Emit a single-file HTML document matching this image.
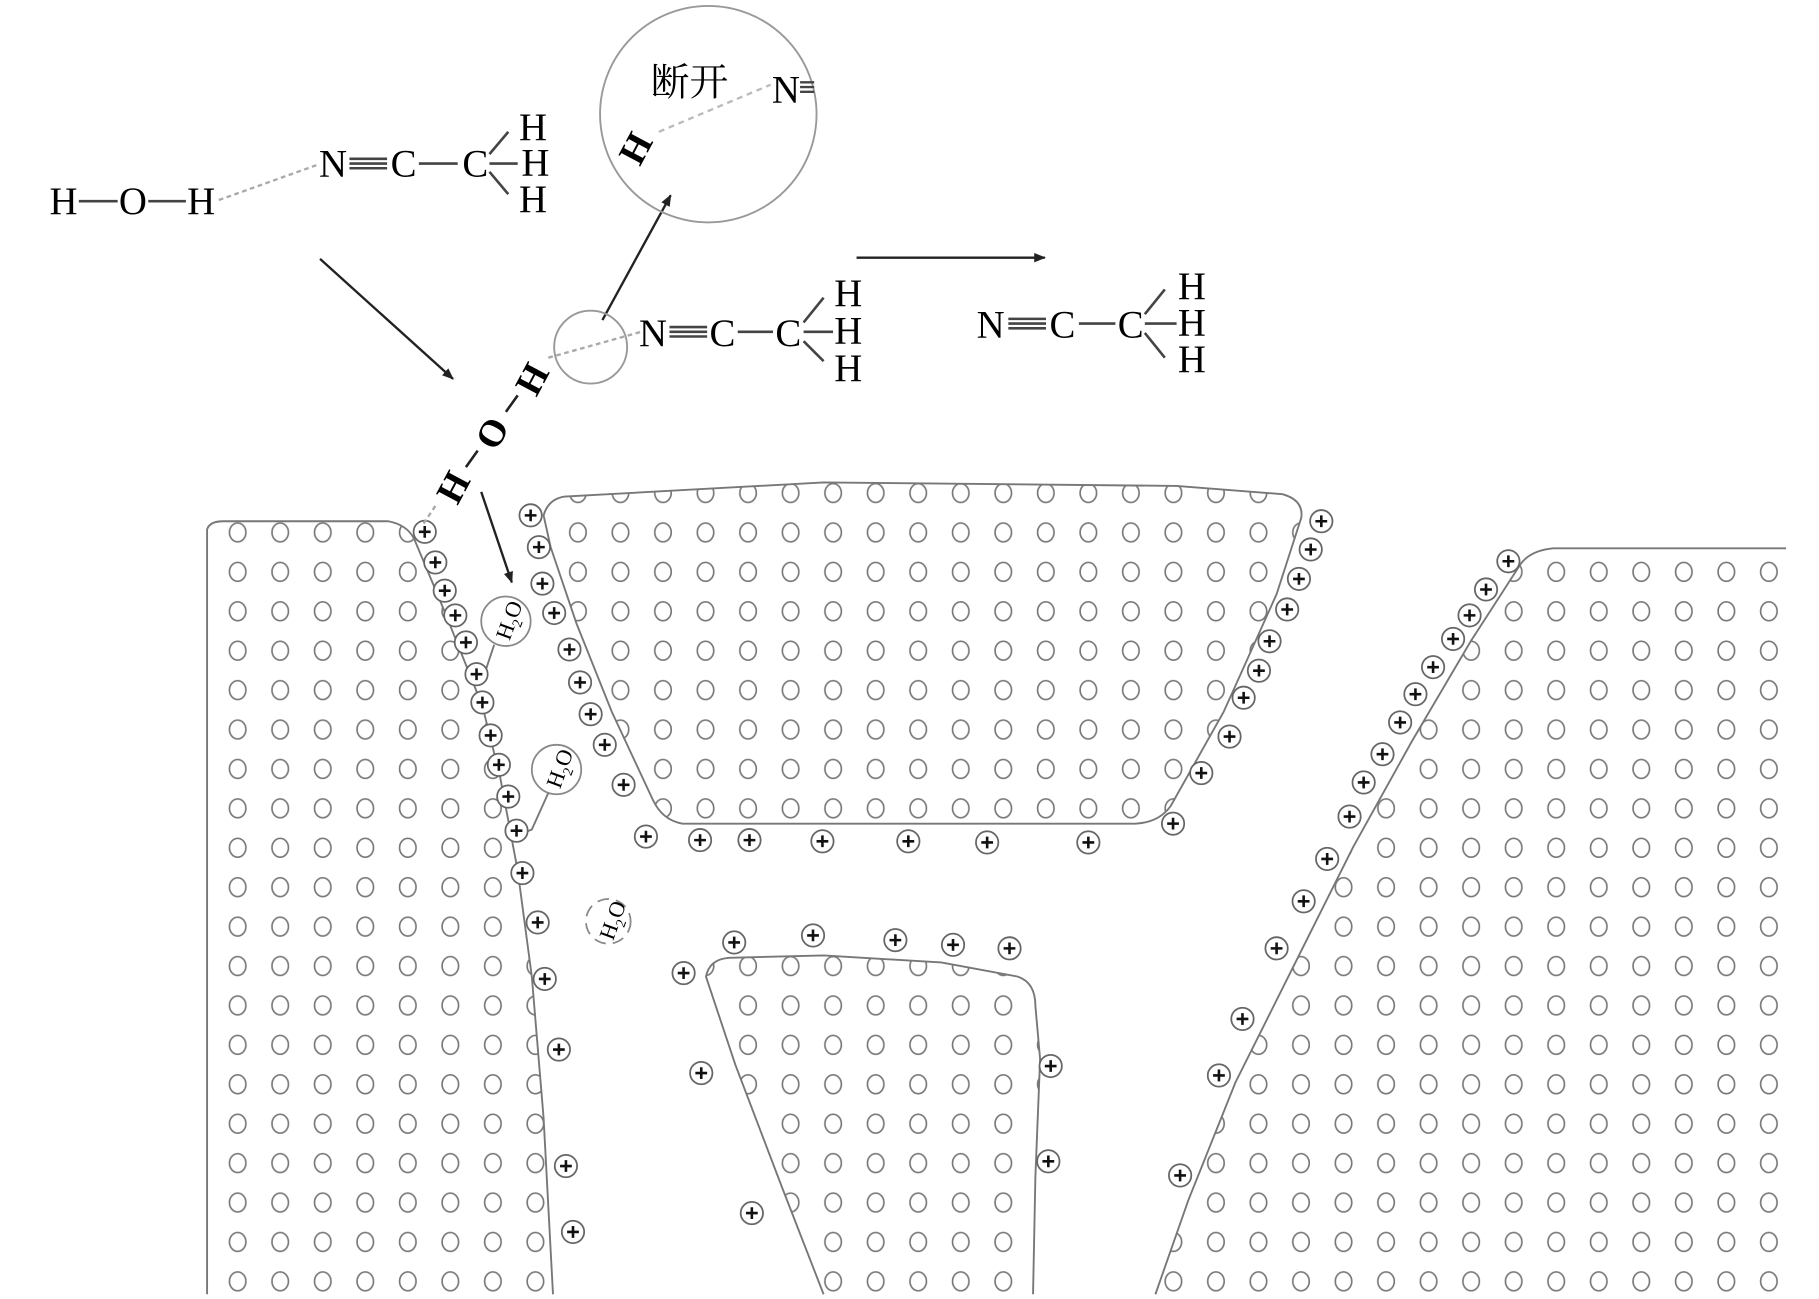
<!DOCTYPE html>
<html><head><meta charset="utf-8"><style>
html,body{margin:0;padding:0;background:#fff;}
svg{display:block;}
.t{font-family:"Liberation Serif","Noto Serif CJK SC",serif;font-size:33px;fill:#000;}
.b{font-family:"Liberation Serif",serif;font-size:32px;font-weight:bold;fill:#000;}
.h2o{font-family:"Liberation Serif",serif;font-size:19px;fill:#000;}
</style></head><body>
<svg width="1819" height="1299" viewBox="0 0 1546 1104" preserveAspectRatio="none" xmlns="http://www.w3.org/2000/svg">
<defs>
<pattern id="dots" patternUnits="userSpaceOnUse" x="184" y="402.25" width="36.15" height="33.5">
<ellipse cx="18" cy="16.75" rx="7" ry="8" fill="none" stroke="#777" stroke-width="1.4"/>
</pattern>
<marker id="ar" markerWidth="10" markerHeight="8" refX="9" refY="4" orient="auto" markerUnits="userSpaceOnUse">
<path d="M0,0 L10,4 L0,8 Z" fill="#222"/></marker>
<g id="p"><circle r="9.5" fill="#fff" stroke="#666" stroke-width="1.5"/><path d="M-5,0H5M0,-5V5" stroke="#111" stroke-width="2.2"/></g>
</defs>
<rect width="1546" height="1104" fill="#fff"/>

<!-- regions -->
<path d="M176,1100 L176,450 Q178,443 190,443 L330,443 Q346,446 352,458 L378,520 L410,600 L425,660 L440,740 L452,830 L462,950 L470,1100 Z" fill="url(#dots)"/>
<path d="M176,1100 L176,450 Q178,443 190,443 L330,443 Q346,446 352,458 L378,520 L410,600 L425,660 L440,740 L452,830 L462,950 L470,1100" fill="none" stroke="#777" stroke-width="1.6"/>
<path d="M462,438 Q466,424 480,422 L700,410 L1000,413 L1090,420 Q1108,425 1106,440 L1085,505 L1040,605 L995,685 Q985,699 965,700 L580,700 Q563,697 555,680 L520,605 L490,530 L468,465 Z" fill="url(#dots)" stroke="#777" stroke-width="1.6"/>
<path d="M600,830 Q603,815 620,814 L700,812 L800,818 L865,830 Q880,835 880,855 L884,900 L880,1000 L878,1100 L700,1100 L665,1010 L625,905 Z" fill="url(#dots)"/>
<path d="M700,1100 L665,1010 L625,905 L600,830 Q603,815 620,814 L700,812 L800,818 L865,830 Q880,835 880,855 L884,900 L880,1000 L878,1100" fill="none" stroke="#777" stroke-width="1.6"/>
<path d="M1518,1100 L1518,466 L1320,466 Q1300,468 1292,480 L1250,545 L1200,630 L1150,720 L1100,820 L1050,920 L1010,1020 L982,1100 Z" fill="url(#dots)"/>
<path d="M1518,466 L1320,466 Q1300,468 1292,480 L1250,545 L1200,630 L1150,720 L1100,820 L1050,920 L1010,1020 L982,1100" fill="none" stroke="#777" stroke-width="1.6"/>

<!-- H2O -->
<circle cx="430" cy="528" r="21" fill="#fff" stroke="#888" stroke-width="1.5"/>
<text class="h2o" transform="translate(433,545) rotate(-70)">H<tspan font-size="12" dy="5">2</tspan><tspan dy="-5">O</tspan></text>
<path d="M420,548 L410,578" fill="none" stroke="#777" stroke-width="1.6"/>
<circle cx="473" cy="654" r="21" fill="#fff" stroke="#888" stroke-width="1.5"/>
<text class="h2o" transform="translate(476,671) rotate(-70)">H<tspan font-size="12" dy="5">2</tspan><tspan dy="-5">O</tspan></text>
<path d="M466,674 L452,705 L440,710" fill="none" stroke="#777" stroke-width="1.6"/>
<circle cx="517" cy="783" r="19" fill="none" stroke="#888" stroke-width="1.5" stroke-dasharray="10,6"/>
<text class="h2o" transform="translate(521,800) rotate(-70)">H<tspan font-size="12" dy="5">2</tspan><tspan dy="-5">O</tspan></text>

<!-- plus charges -->
<g>
<use href="#p" x="361" y="452"/><use href="#p" x="370" y="478"/><use href="#p" x="378" y="502"/><use href="#p" x="387" y="523"/><use href="#p" x="396" y="546"/><use href="#p" x="405" y="573"/><use href="#p" x="410" y="597"/><use href="#p" x="417" y="625"/><use href="#p" x="424" y="650"/><use href="#p" x="432" y="677"/><use href="#p" x="439" y="706"/><use href="#p" x="444" y="742"/><use href="#p" x="457" y="784"/><use href="#p" x="463" y="832"/><use href="#p" x="475" y="892"/><use href="#p" x="481" y="991"/><use href="#p" x="487" y="1047"/>
<use href="#p" x="451" y="438"/><use href="#p" x="458" y="465"/><use href="#p" x="461" y="496"/><use href="#p" x="471" y="521"/><use href="#p" x="484" y="552"/><use href="#p" x="493" y="580"/><use href="#p" x="502" y="607"/><use href="#p" x="514" y="633"/><use href="#p" x="530" y="667"/>
<use href="#p" x="549" y="711"/><use href="#p" x="595" y="714"/><use href="#p" x="637" y="714"/><use href="#p" x="699" y="715"/><use href="#p" x="772" y="715"/><use href="#p" x="839" y="716"/><use href="#p" x="925" y="716"/><use href="#p" x="997" y="700"/>
<use href="#p" x="1123" y="443"/><use href="#p" x="1114" y="467"/><use href="#p" x="1104" y="492"/><use href="#p" x="1094" y="518"/><use href="#p" x="1079" y="545"/><use href="#p" x="1070" y="570"/><use href="#p" x="1057" y="593"/><use href="#p" x="1045" y="626"/><use href="#p" x="1021" y="657"/>
<use href="#p" x="1282" y="477"/><use href="#p" x="1263" y="501"/><use href="#p" x="1249" y="523"/><use href="#p" x="1235" y="543"/><use href="#p" x="1218" y="567"/><use href="#p" x="1203" y="590"/><use href="#p" x="1190" y="614"/><use href="#p" x="1175" y="641"/><use href="#p" x="1159" y="665"/><use href="#p" x="1147" y="694"/><use href="#p" x="1128" y="730"/><use href="#p" x="1108" y="766"/><use href="#p" x="1085" y="806"/><use href="#p" x="1056" y="866"/><use href="#p" x="1036" y="914"/><use href="#p" x="1003" y="999"/>
<use href="#p" x="581" y="827"/><use href="#p" x="624" y="801"/><use href="#p" x="691" y="795"/><use href="#p" x="761" y="799"/><use href="#p" x="810" y="803"/><use href="#p" x="858" y="806"/><use href="#p" x="596" y="912"/><use href="#p" x="893" y="906"/><use href="#p" x="891" y="987"/><use href="#p" x="639" y="1031"/>
</g>

<!-- molecule 1 -->
<g class="t" text-anchor="middle">
<text x="54" y="182">H</text><text x="113" y="182">O</text><text x="171" y="182">H</text>
<text x="283" y="150">N</text><text x="343" y="150">C</text><text x="404" y="150">C</text>
<text x="453" y="119">H</text><text x="455" y="149">H</text><text x="453" y="180">H</text>
</g>
<g stroke="#444" stroke-width="2.2">
<path d="M67,171H100M126,171H158"/>
<path d="M297,135H329M297,139H329M297,143H329M356,139H389"/>
<path d="M416,131L432,112M416,139H440M416,146L432,165"/>
</g>
<path d="M186,170 L270,140" stroke="#aaa" stroke-width="2" stroke-dasharray="4,3"/>

<!-- arrows -->
<path d="M272,220 L385,322" stroke="#222" stroke-width="2" marker-end="url(#ar)"/>
<path d="M409,418 L435,495" stroke="#222" stroke-width="2" marker-end="url(#ar)"/>
<path d="M512,272 L570,166" stroke="#222" stroke-width="2" marker-end="url(#ar)"/>
<path d="M728,219 L888,219" stroke="#222" stroke-width="2" marker-end="url(#ar)"/>

<!-- H-O-H diagonal -->
<g class="b" text-anchor="middle">
<text transform="translate(385,414) rotate(-62)" y="11">H</text>
<text transform="translate(418,368) rotate(-62)" y="11">O</text>
<text transform="translate(452,322) rotate(-62)" y="11">H</text>
</g>
<path d="M396,397 L406,383M430,350 L440,336" stroke="#222" stroke-width="2.2"/>
<path d="M370,430 L360,445" stroke="#aaa" stroke-width="2" stroke-dasharray="4,3"/>
<circle cx="502" cy="295" r="31" fill="none" stroke="#999" stroke-width="1.6"/>
<path d="M466,304 L545,282" stroke="#aaa" stroke-width="2" stroke-dasharray="4,3"/>

<!-- molecule 2 -->
<g class="t" text-anchor="middle">
<text x="555" y="294">N</text><text x="614" y="294">C</text><text x="670" y="294">C</text>
<text x="721" y="260">H</text><text x="721" y="292">H</text><text x="721" y="324">H</text>
</g>
<g stroke="#444" stroke-width="2.2">
<path d="M569,278H601M569,282H601M569,286H601M627,282H657"/>
<path d="M683,274L700,253M683,282H708M683,290L700,307"/>
</g>

<!-- big circle -->
<circle cx="602" cy="97" r="92" fill="none" stroke="#999" stroke-width="1.6"/>
<text x="553" y="81" class="t" font-size="30">断开</text>
<text x="656" y="87" class="t">N</text>
<path d="M680,70H692M680,74H692M680,78H692" stroke="#444" stroke-width="2"/>
<path d="M560,112 L655,72" stroke="#bbb" stroke-width="2" stroke-dasharray="5,4"/>
<text class="b" text-anchor="middle" transform="translate(540,126) rotate(-62)" y="11">H</text>

<!-- molecule 3 -->
<g class="t" text-anchor="middle">
<text x="842" y="287">N</text><text x="903" y="287">C</text><text x="961" y="287">C</text>
<text x="1013" y="254">H</text><text x="1013" y="285">H</text><text x="1013" y="316">H</text>
</g>
<g stroke="#444" stroke-width="2.2">
<path d="M857,271H889M857,275H889M857,279H889M917,275H948"/>
<path d="M973,267L990,246M973,275H1000M973,283L990,304"/>
</g>
</svg>
</body></html>
